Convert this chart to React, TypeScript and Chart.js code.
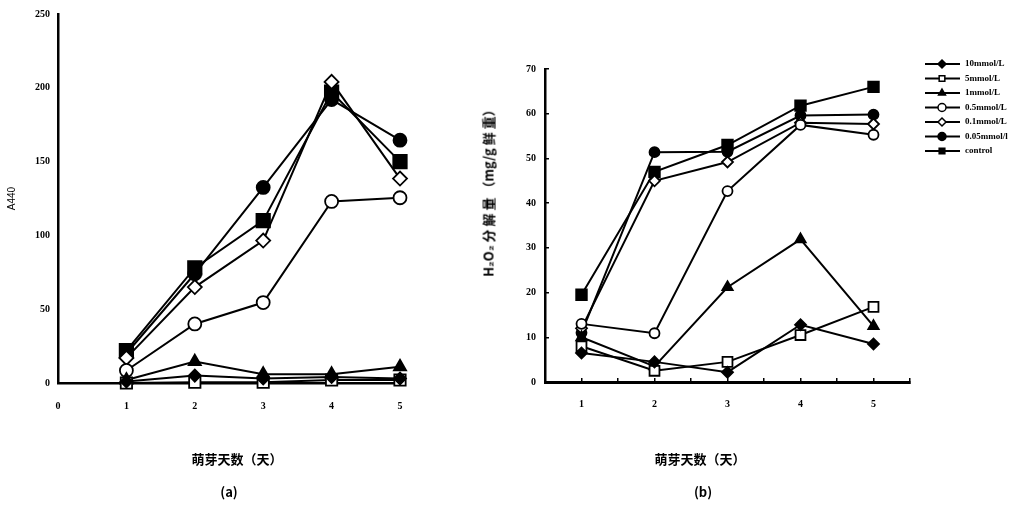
import React, { useEffect, useRef } from 'react';
import { Chart, registerables } from 'chart.js';
Chart.register(...registerables);

// ---------- data ----------
const days = [1, 2, 3, 4, 5];
const seriesLabels = ['10mmol/L', '5mmol/L', '1mmol/L', '0.5mmol/L', '0.1mmol/L', '0.05mmol/l', 'control'];

// (a) A440
const a10mmol = [1, 5, 3, 4, 3];
const a5mmol = [0, 0.5, 0.5, 2, 2];
const a1mmol = [2, 14.5, 6, 6, 11];
const a05mmol = [8.5, 40, 54.5, 123, 125.5];
const a01mmol = [17, 65, 96.5, 204, 138.5];
const a005mmol = [20, 74, 132.5, 192, 164.5];
const aControl = [22, 78, 110, 197, 150];

// (b) H2O2 分解量
const b10mmol = [6.5, 4.5, 2.2, 12.8, 8.5];
const b5mmol = [8, 2.5, 4.5, 10.5, 16.8];
const b1mmol = [10, 3.5, 21.2, 31.9, 12.5];
const b05mmol = [13, 10.9, 42.7, 57.5, 55.3];
const b01mmol = [12, 45, 49.2, 58, 57.7];
const b005mmol = [11, 51.4, 51.5, 59.6, 59.8];
const bControl = [19.5, 47, 53, 61.8, 66];

const aSeries = [a10mmol, a5mmol, a1mmol, a05mmol, a01mmol, a005mmol, aControl];
const bSeries = [b10mmol, b5mmol, b1mmol, b05mmol, b01mmol, b005mmol, bControl];

const xTitle = '萌芽天数（天）';
const aYTitle = 'A440';
const bYTitle = 'H₂O₂ 分 解 量 （mg/g 鲜 重）';
const aPanel = '(a)';
const bPanel = '(b)';

// ---------- styles ----------
const markers = [
  { style: 'rectRot', filled: true, ra: 6, rb: 5.5 },
  { style: 'rect', filled: false, ra: 8, rb: 7 },
  { style: 'triangle', filled: true, ra: 7, rb: 6 },
  { style: 'circle', filled: false, ra: 6.5, rb: 5 },
  { style: 'rectRot', filled: false, ra: 7, rb: 5.5 },
  { style: 'circle', filled: true, ra: 6.5, rb: 5 },
  { style: 'rect', filled: true, ra: 9.5, rb: 7.5 },
];

const tickFont = { family: '"Liberation Serif", serif', size: 10, weight: 'bold' as const };
const cjkFont = '"Noto Sans CJK SC", sans-serif';

function makeDatasets(series: number[][], big: boolean) {
  return series.map((vals, i) => {
    const m = markers[i];
    return {
      label: seriesLabels[i],
      data: days.map((d, k) => ({ x: d, y: vals[k] })),
      borderColor: '#000',
      borderWidth: 2,
      backgroundColor: m.filled ? '#000' : '#fff',
      pointStyle: m.style,
      pointRadius: big ? m.ra : m.rb,
      pointBorderWidth: 1.8,
      pointBorderColor: '#000',
      pointBackgroundColor: m.filled ? '#000' : '#fff',
      tension: 0,
      clip: false as const,
    };
  });
}

function drawMarker(ctx: CanvasRenderingContext2D, style: string, x: number, y: number, r: number, filled: boolean) {
  ctx.beginPath();
  if (style === 'circle') {
    ctx.arc(x, y, r, 0, Math.PI * 2);
  } else if (style === 'rect') {
    const s = r * Math.SQRT1_2;
    ctx.rect(x - s, y - s, 2 * s, 2 * s);
  } else if (style === 'rectRot') {
    ctx.moveTo(x, y - r);
    ctx.lineTo(x + r, y);
    ctx.lineTo(x, y + r);
    ctx.lineTo(x - r, y);
    ctx.closePath();
  } else if (style === 'triangle') {
    ctx.moveTo(x, y - r);
    ctx.lineTo(x + r * 0.866, y + r * 0.5);
    ctx.lineTo(x - r * 0.866, y + r * 0.5);
    ctx.closePath();
  }
  ctx.fillStyle = filled ? '#000' : '#fff';
  ctx.fill();
  ctx.lineWidth = 1.5;
  ctx.strokeStyle = '#000';
  ctx.stroke();
}

const sideLegend = {
  id: 'sideLegend',
  afterDraw(chart: any) {
    const { ctx, chartArea } = chart;
    const x0 = chartArea.right + 15;
    ctx.save();
    chart.data.datasets.forEach((ds: any, i: number) => {
      const y = 64 + i * 14.5;
      ctx.beginPath();
      ctx.moveTo(x0, y);
      ctx.lineTo(x0 + 35, y);
      ctx.lineWidth = 2;
      ctx.strokeStyle = '#000';
      ctx.stroke();
      const m = markers[i];
      drawMarker(ctx, m.style, x0 + 17, y, 4, m.filled);
      ctx.fillStyle = '#000';
      ctx.font = 'bold 9px "Liberation Serif", serif';
      ctx.textAlign = 'left';
      ctx.textBaseline = 'middle';
      ctx.fillText(ds.label, x0 + 40, y);
    });
    ctx.restore();
  },
};

function leftConfig(): any {
  return {
    type: 'line',
    data: { datasets: makeDatasets(aSeries, true) },
    options: {
      animation: false,
      responsive: false,
      devicePixelRatio: 1,
      layout: { padding: { top: 10, right: 40, bottom: 0, left: 0 } },
      plugins: { legend: { display: false }, tooltip: { enabled: false } },
      scales: {
        x: {
          type: 'linear',
          min: 0,
          max: 5,
          afterFit: (s: any) => { s.height = 122; },
          grid: { display: false, drawTicks: false },
          border: { display: true, color: '#000', width: 2.5 },
          ticks: { stepSize: 1, color: '#000', font: tickFont, padding: 17, maxRotation: 0 },
        },
        y: {
          min: 0,
          max: 250,
          afterFit: (s: any) => { s.width = 58; },
          grid: { display: false, drawTicks: false },
          border: { display: true, color: '#000', width: 2.5 },
          ticks: { stepSize: 50, color: '#000', font: tickFont, padding: 8 },
          title: {
            display: true,
            text: aYTitle,
            color: '#000',
            font: { family: '"Liberation Sans", sans-serif', size: 10 },
            padding: { top: 6, bottom: 0 },
          },
        },
      },
    },
  };
}

function rightConfig(): any {
  return {
    type: 'line',
    data: { datasets: makeDatasets(bSeries, false) },
    plugins: [sideLegend],
    options: {
      animation: false,
      responsive: false,
      devicePixelRatio: 1,
      layout: { padding: { top: 69, right: 118, bottom: 0, left: 0 } },
      plugins: { legend: { display: false }, tooltip: { enabled: false } },
      scales: {
        x: {
          type: 'linear',
          min: 0.5,
          max: 5.5,
          afterFit: (s: any) => { s.height = 123; },
          grid: { display: true, drawOnChartArea: false, drawTicks: true, tickLength: -4, color: '#000', lineWidth: 1.5 },
          border: { display: true, color: '#000', width: 3 },
          ticks: {
            stepSize: 0.5,
            color: '#000',
            font: tickFont,
            padding: 20,
            maxRotation: 0,
            autoSkip: false,
            callback: (v: number) => (Number.isInteger(v) ? String(v) : ''),
          },
        },
        y: {
          min: 0,
          max: 70,
          afterFit: (s: any) => { s.width = 105; },
          grid: { display: true, drawOnChartArea: false, drawTicks: true, tickLength: -4, color: '#000', lineWidth: 1.5 },
          border: { display: true, color: '#000', width: 2.5 },
          ticks: { stepSize: 10, color: '#000', font: tickFont, padding: 13 },
        },
      },
    },
  };
}

const labelStyle = (x: number, y: number, rotate = false): React.CSSProperties => ({
  position: 'absolute',
  left: x,
  top: y,
  transform: rotate ? 'translate(-50%, -50%) rotate(-90deg)' : 'translate(-50%, -50%)',
  whiteSpace: 'nowrap',
  fontFamily: cjkFont,
  fontWeight: 'bold',
  fontSize: 13,
  color: '#000',
  lineHeight: 1,
});

export default function App() {
  const leftRef = useRef<HTMLCanvasElement>(null);
  const rightRef = useRef<HTMLCanvasElement>(null);
  useEffect(() => {
    const c1 = new Chart(leftRef.current as HTMLCanvasElement, leftConfig());
    const c2 = new Chart(rightRef.current as HTMLCanvasElement, rightConfig());
    return () => {
      c1.destroy();
      c2.destroy();
    };
  }, []);
  return (
    <div style={{ position: 'fixed', left: 0, top: 0, width: 1028, height: 505, background: '#fff', overflow: 'hidden' }}>
      <canvas ref={leftRef} width={440} height={505} style={{ position: 'absolute', left: 0, top: 0 }} />
      <canvas ref={rightRef} width={588} height={505} style={{ position: 'absolute', left: 440, top: 0 }} />
      <div style={labelStyle(488, 190, true)}>{bYTitle}</div>
      <div style={labelStyle(237, 458)}>{xTitle}</div>
      <div style={labelStyle(229, 491)}>{aPanel}</div>
      <div style={labelStyle(700, 458)}>{xTitle}</div>
      <div style={labelStyle(703, 491)}>{bPanel}</div>
    </div>
  );
}
